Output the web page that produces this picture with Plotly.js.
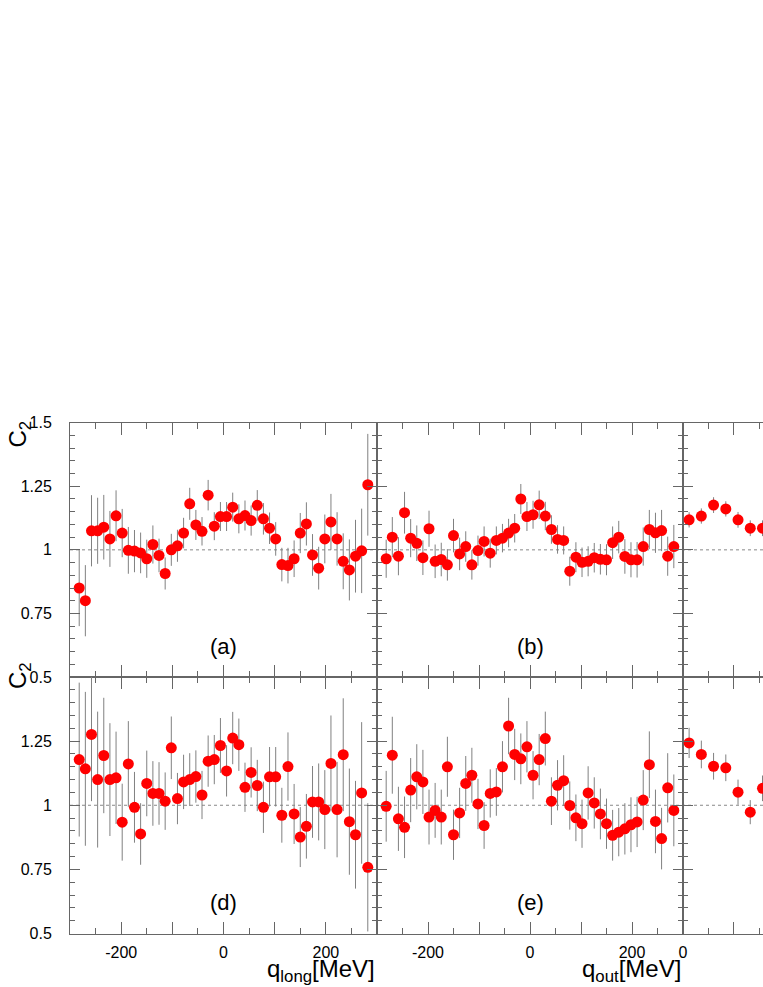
<!DOCTYPE html>
<html>
<head>
<meta charset="utf-8">
<script src="https://cdn.plot.ly/plotly-3.0.1.min.js"></script>
<style>
  html, body { margin: 0; padding: 0; background: #fff; overflow: hidden; }
  #chart { width: 763px; height: 987px; }
</style>
</head>
<body>
<div id="chart"></div>
<script>
// bin centres, MeV
var qBins = [-282, -270, -258, -246, -234, -222, -210, -198, -186, -174, -162, -150,
    -138, -126, -114, -102, -90, -78, -66, -54, -42, -30, -18, -6,
    6, 18, 30, 42, 54, 66, 78, 90, 102, 114, 126, 138,
    150, 162, 174, 186, 198, 210, 222, 234, 246, 258, 270, 282];
var qSideBins = [12, 36, 60, 84, 108, 132, 156];

// (a) q_long, top row
var c2A = [0.85, 0.80, 1.075, 1.075, 1.089, 1.043, 1.134, 1.066, 0.998, 0.995,
    0.988, 0.965, 1.021, 0.978, 0.907, 1.0, 1.016, 1.066, 1.181, 1.098,
    1.073, 1.215, 1.093, 1.131, 1.131, 1.168, 1.122, 1.135, 1.115, 1.175,
    1.122, 1.085, 1.043, 0.942, 0.938, 0.965, 1.066, 1.102, 0.980, 0.928,
    1.043, 1.110, 1.043, 0.955, 0.921, 0.975, 0.996, 1.256];
var errA = [0.15, 0.14, 0.14, 0.13, 0.127, 0.11, 0.10, 0.095, 0.092, 0.083,
    0.08, 0.075, 0.075, 0.066, 0.063, 0.063, 0.063, 0.06, 0.063, 0.059,
    0.056, 0.06, 0.055, 0.057, 0.057, 0.057, 0.057, 0.059, 0.059, 0.06,
    0.062, 0.062, 0.066, 0.066, 0.07, 0.072, 0.079, 0.085, 0.082, 0.084,
    0.096, 0.11, 0.105, 0.11, 0.12, 0.143, 0.166, 0.2];

// (b) q_out, top row
var c2B = [0.965, 1.05, 0.975, 1.146, 1.046, 1.026, 0.969, 1.083, 0.955, 0.962,
    0.941, 1.056, 0.984, 1.013, 0.941, 0.997, 1.033, 0.987, 1.037, 1.046,
    1.066, 1.085, 1.20, 1.131, 1.138, 1.177, 1.133, 1.08, 1.041, 1.037,
    0.916, 0.971, 0.951, 0.955, 0.969, 0.963, 0.961, 1.028, 1.05, 0.974,
    0.961, 0.961, 1.013, 1.08, 1.067, 1.076, 0.975, 1.013];
var errB = [0.075, 0.079, 0.075, 0.082, 0.075, 0.07, 0.068, 0.071, 0.066, 0.066,
    0.062, 0.066, 0.064, 0.06, 0.058, 0.059, 0.059, 0.057, 0.055, 0.056,
    0.056, 0.056, 0.059, 0.057, 0.055, 0.056, 0.056, 0.056, 0.056, 0.055,
    0.057, 0.059, 0.058, 0.059, 0.058, 0.06, 0.061, 0.064, 0.064, 0.068,
    0.069, 0.07, 0.075, 0.077, 0.079, 0.081, 0.077, 0.085];

// (c) third column, top row (cut at the page edge)
var c2C = [1.118, 1.133, 1.176, 1.161, 1.118, 1.085, 1.085];
var errC = [0.03, 0.03, 0.031, 0.03, 0.031, 0.031, 0.031];

// (d) q_long, bottom row
var c2D = [1.178, 1.142, 1.276, 1.10, 1.194, 1.10, 1.107, 0.934, 1.161, 0.992,
    0.888, 1.085, 1.046, 1.046, 1.016, 1.224, 1.026, 1.091, 1.10, 1.112,
    1.04, 1.172, 1.178, 1.233, 1.134, 1.262, 1.236, 1.07, 1.128, 1.077,
    0.992, 1.111, 1.111, 0.961, 1.151, 0.966, 0.876, 0.918, 1.013, 1.013,
    0.983, 1.163, 0.983, 1.197, 0.936, 0.885, 1.048, 0.758];
var errD = [0.3, 0.3, 0.26, 0.265, 0.225, 0.22, 0.18, 0.15, 0.167, 0.138,
    0.12, 0.128, 0.126, 0.122, 0.112, 0.122, 0.10, 0.106, 0.103, 0.102,
    0.094, 0.10, 0.096, 0.107, 0.10, 0.102, 0.102, 0.096, 0.098, 0.10,
    0.10, 0.116, 0.116, 0.107, 0.133, 0.117, 0.117, 0.126, 0.14, 0.15,
    0.154, 0.187, 0.186, 0.22, 0.207, 0.21, 0.276, 0.25];

// (e) q_out, bottom row
var c2E = [0.996, 1.195, 0.947, 0.914, 1.059, 1.111, 1.091, 0.954, 0.98, 0.954,
    1.15, 0.885, 0.97, 1.085, 1.117, 1.005, 0.921, 1.046, 1.052, 1.15,
    1.309, 1.198, 1.181, 1.228, 1.117, 1.178, 1.26, 1.016, 1.078, 1.096,
    0.999, 0.951, 0.928, 1.048, 1.009, 0.966, 0.928, 0.883, 0.895, 0.908,
    0.924, 0.935, 1.02, 1.158, 0.937, 0.87, 1.068, 0.98];
var errE = [0.138, 0.15, 0.125, 0.12, 0.125, 0.127, 0.125, 0.107, 0.107, 0.107,
    0.117, 0.098, 0.098, 0.107, 0.107, 0.098, 0.091, 0.094, 0.093, 0.1,
    0.11, 0.1, 0.099, 0.1, 0.094, 0.1, 0.105, 0.093, 0.098, 0.099,
    0.094, 0.091, 0.094, 0.104, 0.1, 0.099, 0.098, 0.099, 0.094, 0.1,
    0.107, 0.098, 0.117, 0.13, 0.124, 0.12, 0.135, 0.14];

// (f) third column, bottom row
var c2F = [1.243, 1.198, 1.152, 1.146, 1.051, 0.973, 1.066];
var errF = [0.059, 0.054, 0.052, 0.052, 0.049, 0.047, 0.05];

// tick positions and labels
var qLabelTicks = [-200, 0, 200];
var qLabelText = ['-200', '0', '200'];
var qPlainTicks = [-300, -100, 100, 300];
var sideLabelTicks = [0];
var sideLabelText = ['0'];
var sidePlainTicks = [100];
var c2TicksTop = [0.5, 0.75, 1, 1.25, 1.5];
var c2TextTop = ['0.5', '0.75', '1', '1.25', '1.5'];
var c2TicksBottom = [0.5, 0.75, 1, 1.25];
var c2TextBottom = ['0.5', '0.75', '1', '1.25'];

var W = 763, H = 987;
var frame = '#666';
function px(x) { return x / W; }
function py(y) { return 1 - y / H; }

function pointTrace(x, y, err, xa, ya) {
    return {
        x: x,
        y: y,
        xaxis: xa,
        yaxis: ya,
        type: 'scatter',
        mode: 'markers',
        marker: { color: '#ff0000', size: 11 },
        error_y: { type: 'data', array: err, visible: true, color: '#808080', thickness: 1, width: 0 },
        showlegend: false,
        hoverinfo: 'x+y'
    };
}

// empty trace so that a tick-only overlay axis gets drawn
function emptyTrace(xa, ya) {
    return { x: [], y: [], xaxis: xa, yaxis: ya, type: 'scatter', mode: 'markers', showlegend: false };
}

function xAxis(domain, range, anchor, labels, ticks, text) {
    return {
        domain: domain,
        range: range,
        anchor: anchor,
        tickmode: 'array',
        tickvals: ticks,
        ticktext: text,
        showticklabels: labels,
        ticks: 'inside',
        ticklen: 12,
        tickwidth: 1,
        tickcolor: frame,
        minor: { tickmode: 'linear', tick0: 0, dtick: 50, ticks: 'inside', ticklen: 6, tickcolor: frame },
        ticklabelstandoff: 4,
        showline: true,
        linecolor: frame,
        linewidth: 1,
        mirror: 'ticks',
        showgrid: false,
        zeroline: false,
        tickfont: { size: 16, color: '#000' }
    };
}

// unlabelled long ticks on top of a labelled bottom axis
function tickOverlay(base, range, anchor, ticks) {
    return {
        overlaying: base,
        range: range,
        anchor: anchor,
        side: 'bottom',
        tickmode: 'array',
        tickvals: ticks,
        showticklabels: false,
        ticks: 'inside',
        ticklen: 12,
        tickwidth: 1,
        tickcolor: frame,
        showline: false,
        mirror: 'ticks',
        showgrid: false,
        zeroline: false
    };
}

function yAxis(domain, anchor, labels, ticks, text, mirror) {
    return {
        domain: domain,
        range: [0.5, 1.5],
        anchor: anchor,
        tickmode: 'array',
        tickvals: ticks,
        ticktext: text,
        showticklabels: labels,
        ticks: 'inside',
        ticklen: 10,
        tickwidth: 1,
        tickcolor: frame,
        minor: { tickmode: 'linear', tick0: 0.5, dtick: 0.05, ticks: 'inside', ticklen: 5, tickcolor: frame },
        ticklabelstandoff: 14,
        showline: true,
        linecolor: frame,
        linewidth: 1,
        mirror: mirror ? 'ticks' : false,
        showgrid: false,
        zeroline: false,
        tickfont: { size: 16, color: '#000' }
    };
}

function panelLabel(text, xa, ya) {
    return {
        text: text, xref: xa, yref: ya, x: 0, y: 0.62,
        showarrow: false, font: { size: 22, color: '#000' }
    };
}

function drawChart() {
    var data = [
        pointTrace(qBins, c2A, errA, 'x', 'y'),
        pointTrace(qBins, c2B, errB, 'x2', 'y2'),
        pointTrace(qSideBins, c2C, errC, 'x3', 'y3'),
        pointTrace(qBins, c2D, errD, 'x4', 'y4'),
        pointTrace(qBins, c2E, errE, 'x5', 'y5'),
        pointTrace(qSideBins, c2F, errF, 'x6', 'y6'),
        emptyTrace('x7', 'y4'),
        emptyTrace('x8', 'y5'),
        emptyTrace('x9', 'y6')
    ];

    var col1 = [px(70), px(377)];
    var col2 = [px(377), px(683)];
    var col3 = [px(683), 1];
    var rowTop = [py(677), py(422.7)];
    var rowBottom = [py(933.5), py(677)];
    var qRange = [-300, 300];
    var sideRange = [0, 157];
    var qTopTicks = qLabelTicks.concat(qPlainTicks);
    var sideTopTicks = sideLabelTicks.concat(sidePlainTicks);

    var dotted = { color: '#888', width: 1, dash: 'dot' };

    var layout = {
        width: W,
        height: H,
        margin: { l: 0, r: 0, t: 0, b: 0 },
        paper_bgcolor: '#fff',
        plot_bgcolor: 'rgba(0,0,0,0)',
        font: { family: 'Liberation Sans, Arial, sans-serif', color: '#000' },
        xaxis: xAxis(col1, qRange, 'y', false, qTopTicks, qTopTicks),
        xaxis2: xAxis(col2, qRange, 'y2', false, qTopTicks, qTopTicks),
        xaxis3: xAxis(col3, sideRange, 'y3', false, sideTopTicks, sideTopTicks),
        xaxis4: xAxis(col1, qRange, 'y4', true, qLabelTicks, qLabelText),
        xaxis5: xAxis(col2, qRange, 'y5', true, qLabelTicks, qLabelText),
        xaxis6: xAxis(col3, sideRange, 'y6', true, sideLabelTicks, sideLabelText),
        xaxis7: tickOverlay('x4', qRange, 'y4', qPlainTicks),
        xaxis8: tickOverlay('x5', qRange, 'y5', qPlainTicks),
        xaxis9: tickOverlay('x6', sideRange, 'y6', sidePlainTicks),
        yaxis: yAxis(rowTop, 'x', true, c2TicksTop, c2TextTop, true),
        yaxis2: yAxis(rowTop, 'x2', false, c2TicksTop, c2TextTop, true),
        yaxis3: yAxis(rowTop, 'x3', false, c2TicksTop, c2TextTop, false),
        yaxis4: yAxis(rowBottom, 'x4', true, c2TicksBottom, c2TextBottom, true),
        yaxis5: yAxis(rowBottom, 'x5', false, c2TicksBottom, c2TextBottom, true),
        yaxis6: yAxis(rowBottom, 'x6', false, c2TicksBottom, c2TextBottom, false),
        shapes: [
            { type: 'line', xref: 'paper', yref: 'y', x0: px(70), x1: 1, y0: 1, y1: 1, line: dotted, layer: 'below' },
            { type: 'line', xref: 'paper', yref: 'y4', x0: px(70), x1: 1, y0: 1, y1: 1, line: dotted, layer: 'below' }
        ],
        annotations: [
            panelLabel('(a)', 'x', 'y'),
            panelLabel('(b)', 'x2', 'y2'),
            panelLabel('(d)', 'x4', 'y4'),
            panelLabel('(e)', 'x5', 'y5'),
            { text: 'C<sub>2</sub>', xref: 'paper', yref: 'paper', x: px(2), y: py(434), textangle: -90,
              xanchor: 'left', showarrow: false, font: { size: 24 } },
            { text: 'C<sub>2</sub>', xref: 'paper', yref: 'paper', x: px(2), y: py(691), textangle: -90,
              xanchor: 'left', showarrow: false, font: { size: 24 } },
            { text: 'q<sub>long</sub>[MeV]', xref: 'paper', yref: 'paper', x: px(377), y: py(970),
              xanchor: 'right', yanchor: 'middle', showarrow: false, font: { size: 24 } },
            { text: 'q<sub>out</sub>[MeV]', xref: 'paper', yref: 'paper', x: px(683), y: py(970),
              xanchor: 'right', yanchor: 'middle', showarrow: false, font: { size: 24 } }
        ]
    };

    Plotly.newPlot('chart', data, layout, { staticPlot: true, displayModeBar: false });
}

drawChart();
</script>
</body>
</html>
